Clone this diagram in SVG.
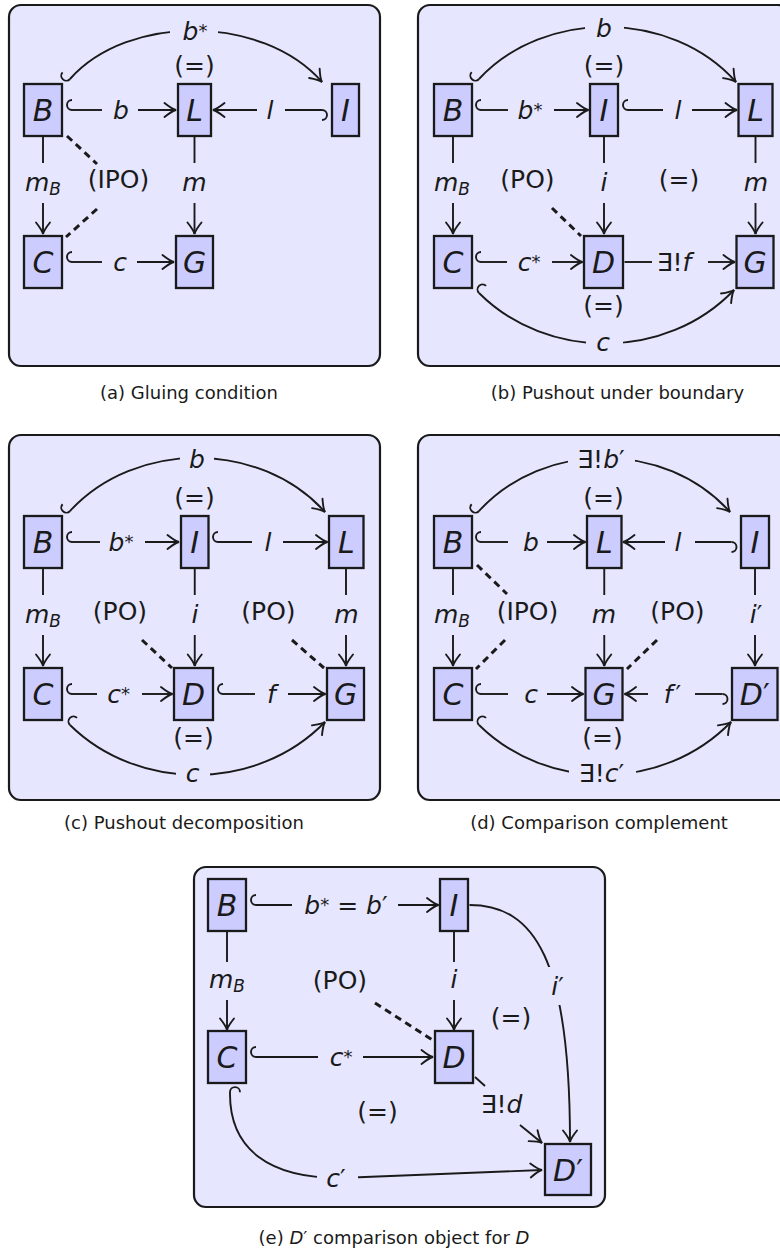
<svg xmlns="http://www.w3.org/2000/svg" width="780" height="1255" viewBox="0 0 780 1255">
<style>
.frame{fill:#e6e6ff;stroke:#1a1a1a;stroke-width:2.2}
.node rect{fill:#ccccff;stroke:#1a1a1a;stroke-width:2.3}
.n{font-family:"DejaVu Sans",sans-serif;font-style:italic;font-size:30px;text-anchor:middle;fill:#1a1a1a}
.m{font-family:"DejaVu Sans",sans-serif;font-style:italic;font-size:25px;text-anchor:middle;fill:#1a1a1a}
.t{font-family:"DejaVu Sans",sans-serif;font-size:25px;text-anchor:middle;fill:#1a1a1a}
.up{font-style:normal}
.cap{font-family:"DejaVu Sans",sans-serif;font-size:18px;text-anchor:middle;fill:#1a1a1a}
.e{fill:none;stroke:#1a1a1a;stroke-width:1.9}
.ar{marker-end:url(#ah)}
.hk{marker-start:url(#hk)}
.d{fill:none;stroke:#1a1a1a;stroke-width:3;stroke-dasharray:7 5}
.bg{fill:#e6e6ff}
</style>
<defs>
<marker id="ah" markerUnits="userSpaceOnUse" orient="auto" overflow="visible" markerWidth="1" markerHeight="1">
<path d="M-11.5,-7 Q-4,-1 0,0 Q-4,1 -11.5,7" fill="none" stroke="#1a1a1a" stroke-width="1.9" stroke-linecap="round"/>
</marker>
<marker id="hk" markerUnits="userSpaceOnUse" orient="auto" overflow="visible" markerWidth="1" markerHeight="1">
<path d="M0,0 A5,5 0 0 1 0,-10" fill="none" stroke="#1a1a1a" stroke-width="1.9"/>
</marker>
</defs>

<!-- frames -->
<g id="frames">
<rect class="frame" x="9" y="5" width="371" height="361" rx="12"/>
<rect class="frame" x="418" y="5" width="372" height="361" rx="12"/>
<rect class="frame" x="9" y="435" width="371" height="365" rx="12"/>
<rect class="frame" x="418" y="435" width="372" height="365" rx="12"/>
<rect class="frame" x="194" y="867" width="411" height="340" rx="12"/>
</g>

<!-- connectors -->
<g id="connectors">
<!-- (a) -->
<path class="e hk ar" d="M70,79 C128,14 262,14 322,82"/>
<rect class="bg" x="170" y="16" width="48" height="27"/>
<path class="e hk" d="M72,110 L102,110"/><path class="e ar" d="M138,110 L176,110"/>
<path class="e hk" d="M322,110 L285,110"/><path class="e ar" d="M257,110 L213,110"/>
<path class="e" d="M43,137 L43,163"/><path class="e ar" d="M43,203 L43,234"/>
<path class="e" d="M194.5,137 L194.5,163"/><path class="e ar" d="M194.5,203 L194.5,234"/>
<path class="d" d="M67,136 L97,164"/><path class="d" d="M97,209 L66,237"/>
<path class="e hk" d="M72,262 L102,262"/><path class="e ar" d="M137,262 L174,262"/>

<!-- (b) -->
<path class="e hk ar" d="M479,79 C544,9 671,9 736,82"/>
<rect class="bg" x="585" y="12" width="39" height="30"/>
<path class="e hk" d="M481,110 L508,110"/><path class="e ar" d="M554,110 L588.5,110"/>
<path class="e hk" d="M628,110 L663,110"/><path class="e ar" d="M692,110 L737,110"/>
<path class="e" d="M453,137 L453,163"/><path class="e ar" d="M453,203 L453,234"/>
<path class="e" d="M604,137 L604,163"/><path class="e ar" d="M604,203 L604,234"/>
<path class="e" d="M755.5,137 L755.5,163"/><path class="e ar" d="M755.5,203 L755.5,234"/>
<path class="d" d="M552,208 L581,236"/>
<path class="e hk" d="M481,262 L507,262"/><path class="e ar" d="M552,262 L582.5,262"/>
<path class="e" d="M624.5,262 L652,262"/><path class="e ar" d="M708,262 L735,262"/>
<path class="e hk ar" d="M479,293 C547,361 666,361 734,290"/>
<rect class="bg" x="586" y="331" width="37" height="26"/>

<!-- (c) -->
<path class="e hk ar" d="M70,511 C135,440 260,440 325,512"/>
<rect class="bg" x="180" y="444" width="34" height="30"/>
<path class="e hk" d="M72,542 L100,542"/><path class="e ar" d="M145,542 L179,542"/>
<path class="e hk" d="M218,542 L252,542"/><path class="e ar" d="M283,542 L327.5,542"/>
<path class="e" d="M43,569 L43,595"/><path class="e ar" d="M43,635 L43,666"/>
<path class="e" d="M194.75,569 L194.75,595"/><path class="e ar" d="M194.75,635 L194.75,666"/>
<path class="e" d="M346,569 L346,595"/><path class="e ar" d="M346,635 L346,666"/>
<path class="d" d="M142,640 L172,668"/><path class="d" d="M292,640 L324,668"/>
<path class="e hk" d="M72,694 L97,694"/><path class="e ar" d="M142,694 L172.5,694"/>
<path class="e hk" d="M223,694 L255,694"/><path class="e ar" d="M288,694 L325.5,694"/>
<path class="e hk ar" d="M70,725 C138,792 257,792 325,722"/>
<rect class="bg" x="176" y="761" width="34" height="26"/>

<!-- (d) -->
<path class="e hk ar" d="M479,511 C544,440 665,440 730,512"/>
<rect class="bg" x="568" y="444" width="67" height="30"/>
<path class="e hk" d="M481,542 L508,542"/><path class="e ar" d="M547,542 L585.5,542"/>
<path class="e hk" d="M731.5,542 L695,542"/><path class="e ar" d="M665,542 L623,542"/>
<path class="e" d="M453,569 L453,595"/><path class="e ar" d="M453,635 L453,666"/>
<path class="e" d="M604.25,569 L604.25,595"/><path class="e ar" d="M604.25,635 L604.25,666"/>
<path class="e" d="M755,569 L755,595"/><path class="e ar" d="M755,635 L755,666"/>
<path class="d" d="M477,565 L507,594"/><path class="d" d="M505,640 L476,669"/>
<path class="d" d="M657,640 L627,669"/>
<path class="e hk" d="M481,694 L508,694"/><path class="e ar" d="M547,694 L583.5,694"/>
<path class="e hk" d="M722.5,694 L695,694"/><path class="e ar" d="M648,694 L624.5,694"/>
<path class="e hk ar" d="M479,725 C547,792 663,792 731,722"/>
<rect class="bg" x="569" y="761" width="67" height="28"/>

<!-- (e) -->
<path class="e hk" d="M256,905 L292,905"/><path class="e ar" d="M398,905 L438.5,905"/>
<path class="e" d="M227,932 L227,962"/><path class="e ar" d="M227,1000 L227,1030"/>
<path class="e" d="M454,932 L454,962"/><path class="e ar" d="M454,1000 L454,1030"/>
<path class="d" d="M375,1003 L434,1041"/>
<path class="e ar" d="M469.5,905 C535,905 570,960 570,1142"/>
<rect class="bg" x="545" y="967" width="24" height="38"/>
<path class="e hk" d="M256,1057 L318,1057"/><path class="e ar" d="M363,1057 L433,1057"/>
<path class="e" d="M475,1077 L485,1086"/><path class="e ar" d="M520,1125 L542,1143"/>
<path class="e hk ar" d="M230,1092 C229,1150 270,1178 340,1178 L542,1170"/>
<rect class="bg" x="317" y="1160" width="41" height="30"/>
</g>

<!-- edge labels -->
<g id="labels">
<!-- (a) -->
<text class="m" x="195" y="40">b<tspan font-size="18" dy="-3">*</tspan></text>
<text class="t" x="194.5" y="74">(=)</text>
<text class="m" x="121" y="119">b</text>
<text class="m" x="270" y="119">l</text>
<text class="m" x="43" y="191">m<tspan font-size="17" dy="4">B</tspan></text>
<text class="t" x="118.5" y="188">(IPO)</text>
<text class="m" x="194.5" y="191">m</text>
<text class="m" x="120" y="270.5">c</text>
<!-- (b) -->
<text class="m" x="604" y="36.5">b</text>
<text class="t" x="604" y="74">(=)</text>
<text class="m" x="530" y="119">b<tspan font-size="18" dy="-3">*</tspan></text>
<text class="m" x="678" y="119">l</text>
<text class="m" x="452" y="191">m<tspan font-size="17" dy="4">B</tspan></text>
<text class="t" x="527.5" y="188">(PO)</text>
<text class="m" x="604" y="191">i</text>
<text class="t" x="679" y="188">(=)</text>
<text class="m" x="756" y="191">m</text>
<text class="m" x="529" y="270.5">c<tspan font-size="18" dy="-3">*</tspan></text>
<text class="m" x="674" y="270.5"><tspan class="up">∃!</tspan>f</text>
<text class="t" x="603.5" y="314">(=)</text>
<text class="m" x="603" y="351">c</text>
<!-- (c) -->
<text class="m" x="197" y="468">b</text>
<text class="t" x="194.5" y="506">(=)</text>
<text class="m" x="121" y="551">b<tspan font-size="18" dy="-3">*</tspan></text>
<text class="m" x="268" y="551">l</text>
<text class="m" x="43" y="623">m<tspan font-size="17" dy="4">B</tspan></text>
<text class="t" x="120" y="620">(PO)</text>
<text class="m" x="195" y="623">i</text>
<text class="t" x="268.5" y="620">(PO)</text>
<text class="m" x="346.5" y="623">m</text>
<text class="m" x="118.5" y="702.5">c<tspan font-size="18" dy="-3">*</tspan></text>
<text class="m" x="271.5" y="702.5">f</text>
<text class="t" x="193.5" y="746">(=)</text>
<text class="m" x="192.5" y="781.5">c</text>
<!-- (d) -->
<text class="m" x="601" y="468"><tspan class="up">∃!</tspan>b<tspan class="up">′</tspan></text>
<text class="t" x="603.5" y="506">(=)</text>
<text class="m" x="531" y="551">b</text>
<text class="m" x="678" y="551">l</text>
<text class="m" x="452" y="623">m<tspan font-size="17" dy="4">B</tspan></text>
<text class="t" x="527.5" y="620">(IPO)</text>
<text class="m" x="604" y="623">m</text>
<text class="t" x="677.5" y="620">(PO)</text>
<text class="m" x="756" y="623">i<tspan class="up">′</tspan></text>
<text class="m" x="531" y="702.5">c</text>
<text class="m" x="672.5" y="702.5">f<tspan class="up" dx="3">′</tspan></text>
<text class="t" x="602.5" y="746">(=)</text>
<text class="m" x="601.5" y="782"><tspan class="up">∃!</tspan>c<tspan class="up">′</tspan></text>
<!-- (e) -->
<text class="m" x="346" y="914">b<tspan font-size="18" dy="-3">*</tspan><tspan dy="3"> <tspan class="up">=</tspan> b<tspan class="up">′</tspan></tspan></text>
<text class="m" x="227" y="988">m<tspan font-size="17" dy="4">B</tspan></text>
<text class="m" x="454" y="988">i</text>
<text class="t" x="340" y="989">(PO)</text>
<text class="m" x="557.5" y="995">i<tspan class="up">′</tspan></text>
<text class="t" x="511" y="1026">(=)</text>
<text class="m" x="341" y="1065.5">c<tspan font-size="18" dy="-3">*</tspan></text>
<text class="m" x="501.5" y="1113"><tspan class="up">∃!</tspan>d</text>
<text class="t" x="377.5" y="1120">(=)</text>
<text class="m" x="336" y="1186.5">c<tspan class="up">′</tspan></text>
</g>

<!-- nodes (a) -->
<g id="a-B" class="node"><rect x="24" y="84" width="38" height="52"/><text class="n" x="43" y="121">B</text></g>
<g id="a-L" class="node"><rect x="178" y="84" width="33" height="52"/><text class="n" x="194.5" y="121">L</text></g>
<g id="a-I" class="node"><rect x="332" y="84" width="27" height="52"/><text class="n" x="345.5" y="121">I</text></g>
<g id="a-C" class="node"><rect x="24" y="236" width="38" height="52"/><text class="n" x="43" y="273">C</text></g>
<g id="a-G" class="node"><rect x="176" y="236" width="37" height="52"/><text class="n" x="194.5" y="273">G</text></g>
<!-- nodes (b) -->
<g id="b-B" class="node"><rect x="434" y="84" width="38" height="52"/><text class="n" x="453" y="121">B</text></g>
<g id="b-I" class="node"><rect x="590" y="84" width="28" height="52"/><text class="n" x="604" y="121">I</text></g>
<g id="b-L" class="node"><rect x="738.5" y="84" width="34" height="52"/><text class="n" x="755.5" y="121">L</text></g>
<g id="b-C" class="node"><rect x="434" y="236" width="38" height="52"/><text class="n" x="453" y="273">C</text></g>
<g id="b-D" class="node"><rect x="584" y="236" width="39" height="52"/><text class="n" x="603.5" y="273">D</text></g>
<g id="b-G" class="node"><rect x="736.5" y="236" width="37" height="52"/><text class="n" x="755" y="273">G</text></g>
<!-- nodes (c) -->
<g id="c-B" class="node"><rect x="24" y="516" width="38" height="52"/><text class="n" x="43" y="553">B</text></g>
<g id="c-I" class="node"><rect x="181" y="516" width="27.5" height="52"/><text class="n" x="194.75" y="553">I</text></g>
<g id="c-L" class="node"><rect x="329" y="516" width="34.5" height="52"/><text class="n" x="346.25" y="553">L</text></g>
<g id="c-C" class="node"><rect x="24" y="668" width="38" height="52"/><text class="n" x="43" y="705">C</text></g>
<g id="c-D" class="node"><rect x="174" y="668" width="39" height="52"/><text class="n" x="193.5" y="705">D</text></g>
<g id="c-G" class="node"><rect x="327" y="668" width="37" height="52"/><text class="n" x="345.5" y="705">G</text></g>
<!-- nodes (d) -->
<g id="d-B" class="node"><rect x="434" y="516" width="38" height="52"/><text class="n" x="453" y="553">B</text></g>
<g id="d-L" class="node"><rect x="587" y="516" width="34.5" height="52"/><text class="n" x="604.25" y="553">L</text></g>
<g id="d-I" class="node"><rect x="741" y="516" width="28" height="52"/><text class="n" x="755" y="553">I</text></g>
<g id="d-C" class="node"><rect x="434" y="668" width="38" height="52"/><text class="n" x="453" y="705">C</text></g>
<g id="d-G" class="node"><rect x="585.5" y="668" width="37" height="52"/><text class="n" x="604" y="705">G</text></g>
<g id="d-Dp" class="node"><rect x="732" y="668" width="45.5" height="52"/><text class="n" x="754.75" y="705">D<tspan class="up">′</tspan></text></g>
<!-- nodes (e) -->
<g id="e-B" class="node"><rect x="208" y="879" width="38" height="52"/><text class="n" x="227" y="916">B</text></g>
<g id="e-I" class="node"><rect x="440" y="879" width="28" height="52"/><text class="n" x="454" y="916">I</text></g>
<g id="e-C" class="node"><rect x="208" y="1031" width="38" height="52"/><text class="n" x="227" y="1068">C</text></g>
<g id="e-D" class="node"><rect x="435" y="1031" width="38" height="52"/><text class="n" x="454" y="1068">D</text></g>
<g id="e-Dp" class="node"><rect x="545" y="1144" width="46" height="51"/><text class="n" x="568" y="1180.5">D<tspan class="up">′</tspan></text></g>

<!-- captions -->
<g id="captions">
<text class="cap" x="189" y="398.5">(a) Gluing condition</text>
<text class="cap" x="617.5" y="398.5">(b) Pushout under boundary</text>
<text class="cap" x="184" y="828.5">(c) Pushout decomposition</text>
<text class="cap" x="599" y="828.5">(d) Comparison complement</text>
<text class="cap" x="394" y="1244">(e) <tspan font-style="italic">D<tspan font-style="normal">′</tspan></tspan> comparison object for <tspan font-style="italic">D</tspan></text>
</g>
</svg>
